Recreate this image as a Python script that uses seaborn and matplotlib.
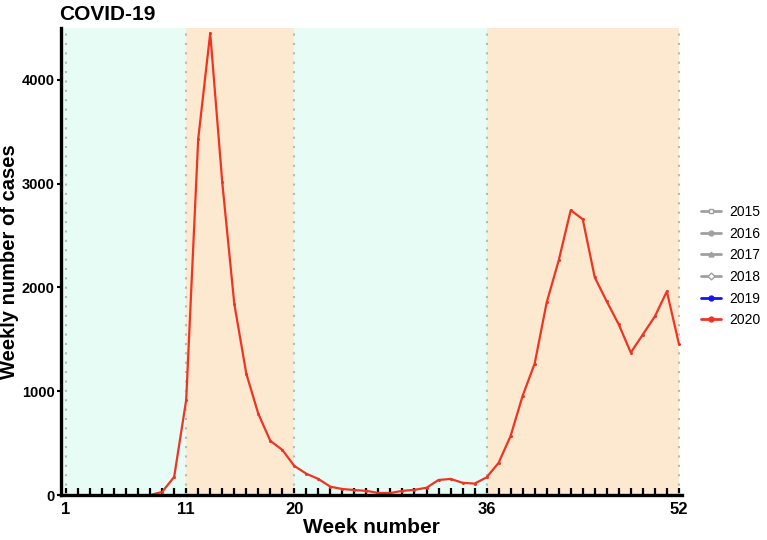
import numpy as np
import pandas as pd
import matplotlib
matplotlib.use("Agg")
import matplotlib.pyplot as plt
import seaborn as sns

# weekly COVID-19 cases, 2020
weeks = list(range(8, 53))
cases = [0, 30, 175, 915, 3430, 4450, 3015, 1845, 1170, 783, 522, 435, 280,
         205, 155, 80, 58, 48, 40, 20, 20, 40, 50, 70, 145, 155, 118, 110,
         170, 310, 570, 956, 1266, 1855, 2260, 2744, 2657, 2097, 1865, 1643,
         1372, 1546, 1720, 1961, 1459]

years = ["2015", "2016", "2017", "2018", "2019", "2020"]
season_bounds = [1, 11, 20, 36, 52]
shown_weeks = [1, 11, 20, 36, 52]

df = pd.DataFrame({"week": weeks, "cases": cases})

sns.set_style("white")
plt.rcParams["font.family"] = ["Liberation Sans", "DejaVu Sans"]
plt.rcParams.update({"text.color": "black", "axes.labelcolor": "black",
                     "xtick.color": "black", "ytick.color": "black"})

fig = plt.figure(figsize=(7.67, 5.40), dpi=100)
ax = fig.add_axes([0.0795, 0.0833, 0.8095, 0.865])

cyan = "#E6FCF5"
peach = "#FDE8D0"
ax.axvspan(0.75, 11, color=cyan, lw=0, zorder=0)
ax.axvspan(11, 20, color=peach, lw=0, zorder=0)
ax.axvspan(20, 36, color=cyan, lw=0, zorder=0)
ax.axvspan(36, 52, color=peach, lw=0, zorder=0)
for b in season_bounds:
    ax.axvline(b, color="#B8B8B8", lw=1.5, ls=(0, (1, 3.5)), zorder=1)

red = "#EE3524"
sns.lineplot(data=df, x="week", y="cases", ax=ax, color=red, lw=1.6,
             marker="o", markersize=2.2, markeredgewidth=0, zorder=3,
             legend=False)

# legend entries (years without data in this panel)
gray = "#A0A0A0"
styles = {"2015": dict(color=gray, marker="s", mfc="white"),
          "2016": dict(color=gray, marker="o"),
          "2017": dict(color=gray, marker="^"),
          "2018": dict(color=gray, marker="D", mfc="white"),
          "2019": dict(color="#1515F0", marker="o"),
          "2020": dict(color=red, marker="o")}
handles = []
for y in years:
    h, = ax.plot([], [], lw=2, markersize=3.5, label=y, **styles[y])
    handles.append(h)
ax.legend(handles=handles, loc="center left", bbox_to_anchor=(1.01, 0.49),
          frameon=False, fontsize=10, handlelength=1.5, handletextpad=0.6,
          labelspacing=0.55)

ax.set_xlim(0.58, 52.25)
ax.set_ylim(0, 4500)

ax.set_xticks(range(1, 53))
ax.set_xticklabels([str(w) if w in shown_weeks else "" for w in range(1, 53)],
                   fontsize=12, fontweight="bold")
ax.set_yticks([0, 1000, 2000, 3000, 4000])
ax.set_yticklabels(["0", "1000", "2000", "3000", "4000"],
                   fontsize=10.5, fontweight="bold")
ax.tick_params(axis="x", bottom=True, direction="in", length=5, width=1.6,
               color="black", pad=5)
ax.tick_params(axis="y", left=True, direction="out", length=3, width=1.5,
               color="black", pad=1.5)

sns.despine(ax=ax)
for s in ["left", "bottom"]:
    ax.spines[s].set_linewidth(2.4)
    ax.spines[s].set_color("black")
    ax.spines[s].set_zorder(5)

ax.set_xlabel("Week number", fontsize=15, fontweight="bold", labelpad=1)
ax.set_ylabel("Weekly number of cases", fontsize=14.5, fontweight="bold",
              labelpad=2)
ax.set_title("COVID-19", loc="left", fontsize=15, fontweight="bold", pad=6,
             x=-0.003)

fig.savefig("out.png", dpi=100)
